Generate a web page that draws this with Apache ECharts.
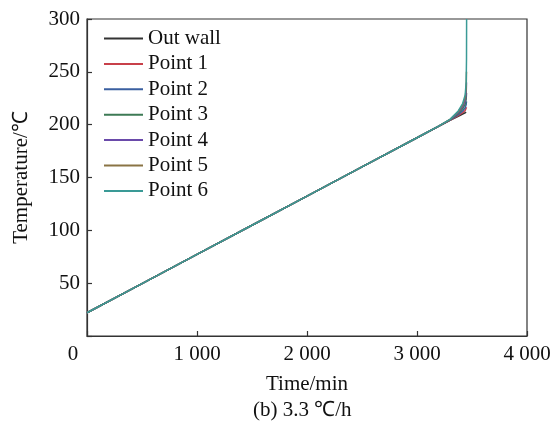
<!DOCTYPE html>
<html>
<head>
<meta charset="utf-8">
<script src="https://cdn.jsdelivr.net/npm/echarts@6/dist/echarts.min.js"></script>
<style>html,body{margin:0;padding:0;background:#fff}#c{width:555px;height:427px}</style>
</head>
<body>
<div id="c"></div>
<script>
const seriesNames = ['Out wall', 'Point 1', 'Point 2', 'Point 3', 'Point 4', 'Point 5', 'Point 6'];
const times = [0, 500, 1000, 1500, 2000, 2500, 3000, 3200, 3300, 3375, 3415, 3438, 3447, 3450, 3451];
const outWall = [22, 49.6, 77.2, 104.8, 132.4, 160, 187.6, 198.6, 204, 207.9, 210.1, 211.3, 211.8, 212, null];
const point1 = [22, 49.6, 77.2, 104.8, 132.4, 160, 187.6, 198.6, 204.2, 208.6, 211.4, 213.4, 215.2, 216.5, null];
const point2 = [22, 49.6, 77.2, 104.8, 132.4, 160, 187.6, 198.7, 204.4, 209.5, 213.0, 216.0, 219.0, 222, null];
const point3 = [22, 49.6, 77.2, 104.8, 132.4, 160, 187.6, 198.7, 204.6, 210.5, 215.0, 219.5, 224.0, 230, null];
const point4 = [22, 49.6, 77.2, 104.8, 132.4, 160, 187.6, 198.8, 204.7, 211.4, 216.8, 222.5, 229.0, 240, null];
const point5 = [22, 49.6, 77.2, 104.8, 132.4, 160, 187.6, 198.8, 204.9, 212.2, 218.5, 225.5, 234.0, 250, null];
const point6 = [22, 49.6, 77.2, 104.8, 132.4, 160, 187.6, 198.9, 205, 213, 220, 228, 240, 262, 300];
const seriesValues = [outWall, point1, point2, point3, point4, point5, point6];
const colors = ['#333333', '#c8404a', '#3a5fa0', '#3d7a55', '#6a4aaa', '#8a7445', '#3a9a96'];
const xTicks = [0, 1000, 2000, 3000, 4000];
const yTicks = [50, 100, 150, 200, 250, 300];

const FONT = "'Liberation Serif', 'Times New Roman', serif";
const FS = 21;
const chart = echarts.init(document.getElementById('c'), null, {renderer: 'canvas'});

function pairs(vals) {
  const out = [];
  for (let i = 0; i < times.length; i++) {
    if (vals[i] !== null) out.push([times[i], vals[i]]);
  }
  return out;
}

chart.setOption({
  animation: false,
  backgroundColor: '#fff',
  color: colors,
  grid: {left: 87, right: 28, top: 19, bottom: 91, show: true, borderColor: '#333', borderWidth: 1.2, backgroundColor: 'transparent'},
  legend: {
    orient: 'vertical', left: 99, top: 23, padding: 5,
    itemWidth: 39, itemHeight: 2, itemGap: 4.4, itemTextGap: 6,
    icon: 'rect',
    textStyle: {fontFamily: FONT, fontSize: FS, color: '#111'},
    data: seriesNames
  },
  xAxis: {
    type: 'value', min: 0, max: 4000, interval: 1000,
    name: 'Time/min', nameLocation: 'middle', nameGap: 38,
    nameTextStyle: {fontFamily: FONT, fontSize: FS, color: '#111'},
    axisLine: {show: true, lineStyle: {color: '#333', width: 1.2}},
    axisTick: {show: true, inside: true, length: 5, lineStyle: {color: '#333', width: 1.2}},
    splitLine: {show: false},
    axisLabel: {
      margin: 8, fontFamily: FONT, fontSize: FS, color: '#111',
      formatter: function (v) {
        if (xTicks.indexOf(v) < 0) return '';
        if (v === 0) return '{z|0}';
        return String(v / 1000) + ' 000';
      },
      rich: {z: {fontFamily: FONT, fontSize: FS, color: '#111', padding: [0, 28, 0, 0]}}
    }
  },
  yAxis: {
    type: 'value', min: 0, max: 300, interval: 50,
    name: 'Temperature/℃', nameLocation: 'middle', nameGap: 55,
    nameTextStyle: {fontFamily: FONT, fontSize: FS, color: '#111'},
    axisLine: {show: true, lineStyle: {color: '#333', width: 1.2}},
    axisTick: {show: true, inside: true, length: 5, lineStyle: {color: '#333', width: 1.2}},
    splitLine: {show: false},
    axisLabel: {
      margin: 7, fontFamily: FONT, fontSize: FS, color: '#111',
      formatter: function (v) { return yTicks.indexOf(v) >= 0 ? String(v) : ''; }
    }
  },
  graphic: [{
    type: 'text', left: 306 - 53, top: 400,
    style: {text: '(b) 3.3 ℃/h', font: FS + "px " + FONT, fill: '#111'}
  }],
  series: seriesNames.map((n, i) => ({
    name: n, type: 'line', data: pairs(seriesValues[i]),
    showSymbol: false, symbol: 'none', smooth: false,
    lineStyle: {width: 1.5, color: colors[i]},
    itemStyle: {color: colors[i]},
    z: 2 + i
  }))
});
</script>
</body>
</html>
